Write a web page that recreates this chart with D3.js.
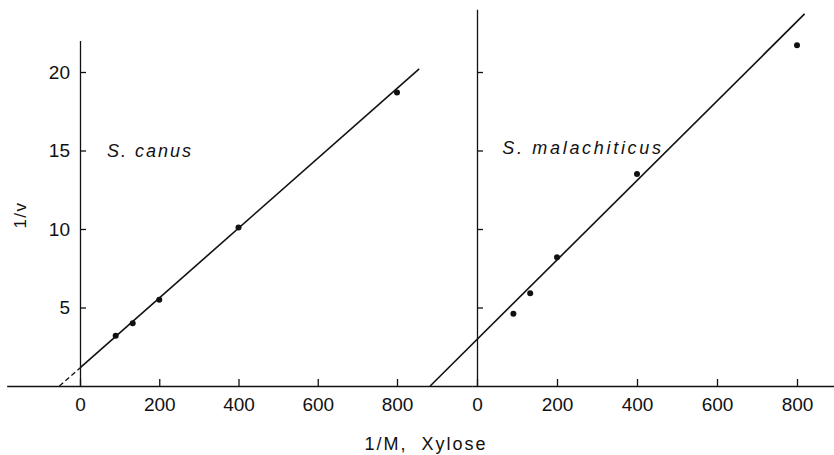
<!DOCTYPE html>
<html>
<head>
<meta charset="utf-8">
<script src="https://cdn.jsdelivr.net/npm/d3@7"></script>
<style>
  body { margin: 0; background: #fff; }
  svg text { font-family: "Liberation Sans", Arial, sans-serif; fill: #111; }
</style>
</head>
<body>
<svg id="chart" width="834" height="455"></svg>
<script>
// data
var xTicks = [0, 200, 400, 600, 800];
var yTicks = [5, 10, 15, 20];

var canusX = [90, 133, 200, 400, 800];
var canusY = [3.2, 4.0, 5.5, 10.1, 18.7];
var canusFit = [[0, 1.15], [856, 20.2]];
var canusExtrap = [[-52, 0], [0, 1.15]];

var malX = [91, 133, 200, 400, 800];
var malY = [4.6, 5.9, 8.2, 13.5, 21.7];
var malFit = [[-117, 0], [819, 23.7]];

var svg = d3.select('#chart');
var baseY = 386, unitY = 15.7;

// panels: left (S. canus) and right (S. malachiticus)
var panels = [
    { name: 'S. canus', x0: 80, k: 0.39625, xDom: [-185, 990], yMax: 22, labels: true,
      xs: canusX, ys: canusY, fit: canusFit, extrap: canusExtrap, label: [68, 14.6], spacing: 2 },
    { name: 'S. malachiticus', x0: 477, k: 0.4, xDom: [-12, 900], yMax: 24, labels: false,
      xs: malX, ys: malY, fit: malFit, extrap: null, label: [63, 14.8], spacing: 2.7 }
];

panels.forEach(function (p) {
    var x = d3.scaleLinear().domain(p.xDom)
        .range([p.x0 + p.xDom[0] * p.k, p.x0 + p.xDom[1] * p.k]);
    var y = d3.scaleLinear().domain([0, p.yMax]).range([baseY, baseY - p.yMax * unitY]);

    var g = svg.append('g');

    var xAxis = g.append('g')
        .attr('transform', 'translate(0,' + baseY + ')')
        .call(d3.axisBottom(x).tickValues(xTicks).tickSize(-7).tickSizeOuter(0).tickPadding(12));
    xAxis.selectAll('text').attr('font-size', 19).attr('font-family', null);

    var yAxis = g.append('g')
        .attr('transform', 'translate(' + p.x0 + ',0)')
        .call(d3.axisLeft(y).tickValues(yTicks).tickSize(-6).tickSizeOuter(0).tickPadding(10)
            .tickFormat(p.labels ? d3.format('d') : function () { return ''; }));
    yAxis.selectAll('text').attr('font-size', 19).attr('font-family', null);

    g.selectAll('.domain, .tick line').attr('stroke', '#111').attr('stroke-width', 1.3);

    var line = d3.line()
        .x(function (d) { return x(d[0]); })
        .y(function (d) { return y(d[1]); });

    g.append('path').datum(p.fit)
        .attr('d', line).attr('fill', 'none')
        .attr('stroke', '#111').attr('stroke-width', 1.6);
    if (p.extrap) {
        g.append('path').datum(p.extrap)
            .attr('d', line).attr('fill', 'none')
            .attr('stroke', '#111').attr('stroke-width', 1.3)
            .attr('stroke-dasharray', '5,3');
    }

    g.selectAll('circle.pt')
        .data(p.xs.map(function (v, i) { return [v, p.ys[i]]; }))
        .enter()
        .append('circle')
        .attr('class', 'pt')
        .attr('cx', function (d) { return x(d[0]); })
        .attr('cy', function (d) { return y(d[1]); })
        .attr('r', 3)
        .attr('fill', '#111');

    // species name, left edge at label[0]
    g.append('text')
        .attr('x', x(p.label[0]))
        .attr('y', y(p.label[1]))
        .attr('font-size', 18)
        .attr('font-style', 'italic')
        .attr('letter-spacing', p.spacing)
        .text(p.name);
});

// axis titles
svg.append('text')
    .attr('transform', 'translate(26,215) rotate(-90)')
    .attr('text-anchor', 'middle')
    .attr('font-size', 17)
    .attr('letter-spacing', 1.5)
    .text('1/v');

svg.append('text')
    .attr('x', 426)
    .attr('y', 450)
    .attr('text-anchor', 'middle')
    .attr('font-size', 18)
    .attr('letter-spacing', 2)
    .style('white-space', 'pre')
    .text('1/M,  Xylose');
</script>
</body>
</html>
